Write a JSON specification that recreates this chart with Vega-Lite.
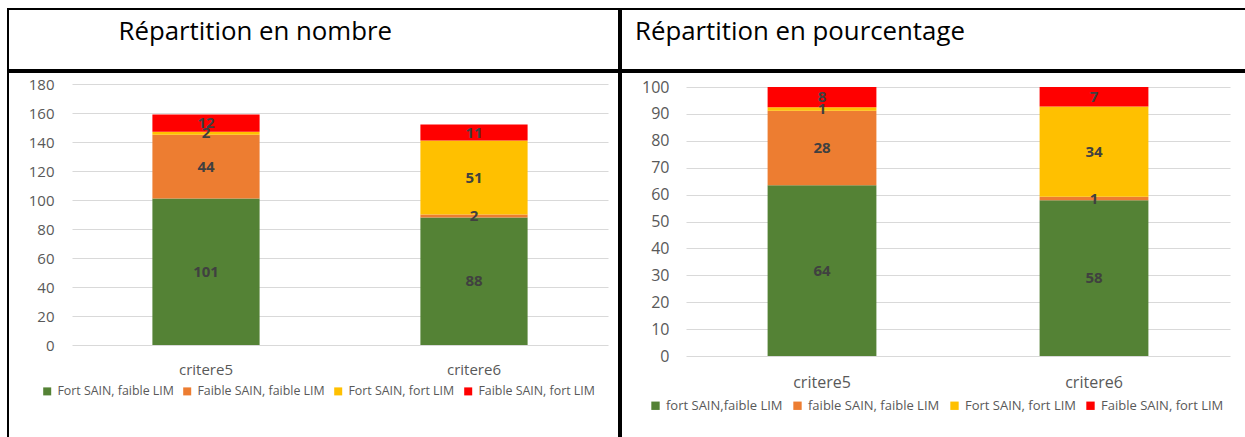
{
  "$schema": "https://vega.github.io/schema/vega-lite/v6.json",
  "padding": {"left": 7, "top": 8, "right": 0, "bottom": 0},
  "spacing": 0,
  "background": "white",
  "datasets": {
    "nombre": [
      {"critere": "critere5", "serie": "Fort SAIN, faible LIM", "ordre": 1, "valeur": 101},
      {"critere": "critere5", "serie": "Faible SAIN, faible LIM", "ordre": 2, "valeur": 44},
      {"critere": "critere5", "serie": "Fort SAIN, fort LIM", "ordre": 3, "valeur": 2},
      {"critere": "critere5", "serie": "Faible SAIN, fort LIM", "ordre": 4, "valeur": 12},
      {"critere": "critere6", "serie": "Fort SAIN, faible LIM", "ordre": 1, "valeur": 88},
      {"critere": "critere6", "serie": "Faible SAIN, faible LIM", "ordre": 2, "valeur": 2},
      {"critere": "critere6", "serie": "Fort SAIN, fort LIM", "ordre": 3, "valeur": 51},
      {"critere": "critere6", "serie": "Faible SAIN, fort LIM", "ordre": 4, "valeur": 11}
    ],
    "pourcentage": [
      {"critere": "critere5", "serie": "fort SAIN,faible LIM", "ordre": 1, "valeur": 63.52},
      {"critere": "critere5", "serie": "faible SAIN, faible LIM", "ordre": 2, "valeur": 27.67},
      {"critere": "critere5", "serie": "Fort SAIN, fort LIM", "ordre": 3, "valeur": 1.26},
      {"critere": "critere5", "serie": "Faible SAIN, fort LIM", "ordre": 4, "valeur": 7.55},
      {"critere": "critere6", "serie": "fort SAIN,faible LIM", "ordre": 1, "valeur": 57.89},
      {"critere": "critere6", "serie": "faible SAIN, faible LIM", "ordre": 2, "valeur": 1.32},
      {"critere": "critere6", "serie": "Fort SAIN, fort LIM", "ordre": 3, "valeur": 33.55},
      {"critere": "critere6", "serie": "Faible SAIN, fort LIM", "ordre": 4, "valeur": 7.24}
    ],
    "titres": [
      {"panneau": "gauche", "titre": "Répartition en nombre"},
      {"panneau": "droite", "titre": "Répartition en pourcentage"}
    ]
  },
  "hconcat": [
    {
      "spacing": 0,
      "vconcat": [
        {
          "width": 611,
          "height": 61,
          "view": {"stroke": "#000000", "strokeWidth": 2},
          "data": {"name": "titres"},
          "transform": [{"filter": "datum.panneau === 'gauche'"}],
          "mark": {"type": "text", "align": "left", "baseline": "middle", "font": "Open Sans", "fontSize": 25.8, "color": "#000000", "dx": -195, "dy": -8},
          "encoding": {"text": {"field": "titre"}}
        },
        {
          "width": 611,
          "height": 370,
          "data": {"name": "nombre"},
          "encoding": {
            "x": {
              "field": "critere", "type": "nominal",
              "scale": {"range": [64, 600], "paddingInner": 0.6, "paddingOuter": 0.3},
              "axis": {"title": null, "labelAngle": 0, "domain": false, "ticks": false, "tickSize": 0, "offset": -97, "labelPadding": 17, "labelFontSize": 15, "labelColor": "#595959", "labelFont": "Open Sans"}
            },
            "y": {
              "field": "valeur", "type": "quantitative", "stack": "zero",
              "scale": {"domain": [0, 180], "range": [273, 12], "nice": false, "zero": true},
              "axis": {"title": null, "values": [0, 20, 40, 60, 80, 100, 120, 140, 160, 180], "grid": true, "gridColor": "#d9d9d9", "gridWidth": 1, "domain": false, "ticks": false, "tickSize": 0, "offset": -48, "labelPadding": 2, "labelFontSize": 15, "labelColor": "#595959", "labelFont": "Open Sans"}
            },
            "order": {"field": "ordre", "sort": "ascending"}
          },
          "layer": [
            {
              "mark": {"type": "bar"},
              "encoding": {
                "color": {
                  "field": "serie", "type": "nominal",
                  "scale": {"domain": ["Fort SAIN, faible LIM", "Faible SAIN, faible LIM", "Fort SAIN, fort LIM", "Faible SAIN, fort LIM"], "range": ["#548235", "#ED7D31", "#FFC000", "#FF0000"]},
                  "legend": {"title": null, "orient": "none", "legendX": 33, "legendY": 376, "direction": "horizontal", "columns": 4, "symbolType": "square", "symbolSize": 64, "symbolStrokeWidth": 0, "labelFontSize": 12.4, "labelFont": "Open Sans", "labelColor": "#595959", "labelOffset": 4, "columnPadding": 7}
                }
              }
            },
            {
              "mark": {"type": "text", "font": "Open Sans", "fontSize": 15, "fontWeight": "bold", "color": "#404040", "baseline": "middle"},
              "encoding": {
                "y": {"field": "valeur", "type": "quantitative", "stack": "zero", "bandPosition": 0.5},
                "text": {"field": "valeur", "type": "quantitative", "format": ".0f"}
              }
            }
          ]
        }
      ]
    },
    {
      "spacing": 0,
      "vconcat": [
        {
          "width": 630,
          "height": 61,
          "view": {"stroke": "#000000", "strokeWidth": 2},
          "data": {"name": "titres"},
          "transform": [{"filter": "datum.panneau === 'droite'"}],
          "mark": {"type": "text", "align": "left", "baseline": "middle", "font": "Open Sans", "fontSize": 25.8, "color": "#000000", "dx": -301, "dy": -8},
          "encoding": {"text": {"field": "titre"}}
        },
        {
          "width": 630,
          "height": 370,
          "data": {"name": "pourcentage"},
          "encoding": {
            "x": {
              "field": "critere", "type": "nominal",
              "scale": {"range": [65, 609], "paddingInner": 0.6, "paddingOuter": 0.3},
              "axis": {"title": null, "labelAngle": 0, "domain": false, "ticks": false, "tickSize": 0, "offset": -86, "labelPadding": 18, "labelFontSize": 16, "labelColor": "#595959", "labelFont": "Open Sans"}
            },
            "y": {
              "field": "valeur", "type": "quantitative", "stack": "zero",
              "scale": {"domain": [0, 100], "range": [284, 15], "nice": false, "zero": true},
              "axis": {"title": null, "values": [0, 10, 20, 30, 40, 50, 60, 70, 80, 90, 100], "grid": true, "gridColor": "#d9d9d9", "gridWidth": 1, "domain": false, "ticks": false, "tickSize": 0, "offset": -50, "labelPadding": 2, "labelFontSize": 16, "labelColor": "#595959", "labelFont": "Open Sans"}
            },
            "order": {"field": "ordre", "sort": "ascending"}
          },
          "layer": [
            {
              "mark": {"type": "bar"},
              "encoding": {
                "color": {
                  "field": "serie", "type": "nominal",
                  "scale": {"domain": ["fort SAIN,faible LIM", "faible SAIN, faible LIM", "Fort SAIN, fort LIM", "Faible SAIN, fort LIM"], "range": ["#548235", "#ED7D31", "#FFC000", "#FF0000"]},
                  "legend": {"title": null, "orient": "none", "legendX": 28, "legendY": 390, "direction": "horizontal", "columns": 4, "symbolType": "square", "symbolSize": 70, "symbolStrokeWidth": 0, "labelFontSize": 13, "labelFont": "Open Sans", "labelColor": "#595959", "labelOffset": 4, "columnPadding": 8}
                }
              }
            },
            {
              "mark": {"type": "text", "font": "Open Sans", "fontSize": 15, "fontWeight": "bold", "color": "#404040", "baseline": "middle"},
              "encoding": {
                "y": {"field": "valeur", "type": "quantitative", "stack": "zero", "bandPosition": 0.5},
                "text": {"field": "valeur", "type": "quantitative", "format": ".0f"}
              }
            }
          ]
        }
      ]
    }
  ],
  "resolve": {"scale": {"color": "independent", "x": "independent", "y": "independent"}, "legend": {"color": "independent"}},
  "config": {
    "view": {"stroke": "#000000", "strokeWidth": 2},
    "concat": {"spacing": 0},
    "legend": {"padding": 0}
  }
}
